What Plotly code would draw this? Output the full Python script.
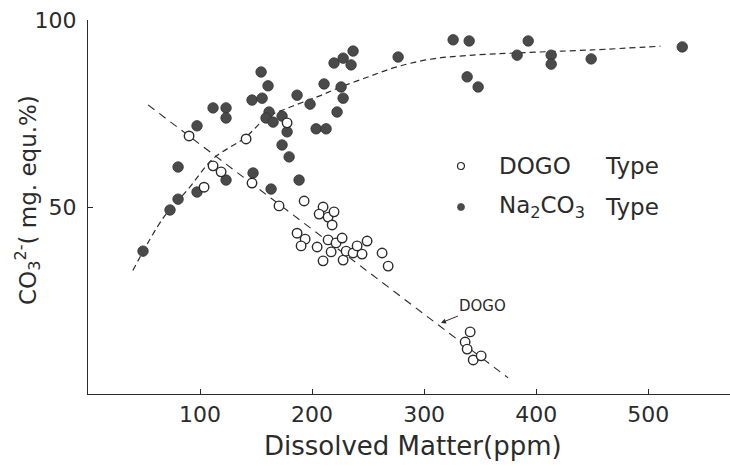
import plotly.graph_objects as go

# Dissolved matter (ppm) vs CO3 2- (mg. equ. %)
dogo_x = [90.2, 141.1, 111.6, 118.8, 103.6, 146.4, 177.7, 170.5, 192.9, 209.8,
          206.3, 214.3, 219.6, 217.9, 186.6, 193.8, 190.2, 204.5, 214.3, 221.4,
          226.8, 217.0, 209.8, 227.7, 230.4, 236.6, 244.6, 240.2, 249.1, 262.5,
          267.9, 341.1, 336.6, 338.4, 343.8, 350.9]
dogo_y = [69.0, 68.2, 61.0, 59.4, 55.3, 56.4, 72.5, 50.3, 51.6, 50.0,
          48.1, 47.3, 48.7, 45.2, 43.0, 41.4, 39.6, 39.3, 41.2, 40.4,
          41.7, 38.0, 35.6, 35.8, 38.2, 37.7, 37.4, 39.6, 40.9, 37.7,
          34.2, 16.6, 13.9, 12.0, 9.1, 10.2]

na_x = [49.1, 73.2, 80.4, 80.4, 97.3, 97.3, 111.6, 123.2, 123.2, 123.2,
        146.4, 147.3, 155.4, 154.5, 160.7, 163.4, 161.6, 158.9, 165.2, 173.2,
        177.7, 173.2, 179.5, 188.4, 186.6, 198.2, 203.6, 212.5, 210.7, 225.9,
        227.7, 222.3, 219.6, 227.7, 234.8, 236.6, 276.8, 325.9, 340.2, 338.4,
        348.2, 383.0, 392.9, 413.4, 413.4, 449.1, 530.4]
na_y = [38.2, 49.2, 52.1, 60.7, 54.0, 71.7, 76.5, 76.5, 73.8, 57.2,
        78.6, 59.1, 79.1, 86.1, 82.4, 54.8, 75.4, 73.8, 72.7, 74.3,
        70.1, 66.6, 63.4, 57.2, 79.9, 77.5, 70.9, 70.9, 82.9, 82.1,
        79.1, 75.4, 88.5, 89.8, 88.0, 91.7, 90.1, 94.7, 94.4, 84.8,
        82.1, 90.6, 94.4, 90.6, 88.2, 89.6, 92.8]

# hand-fitted trend lines
dogo_fit_x = [53.6, 375.0]
dogo_fit_y = [77.3, 4.3]
na_fit_x = [40, 67, 90, 112, 140, 160, 183, 205, 225, 252, 276, 305, 338, 383, 450, 511]
na_fit_y = [33.0, 47.0, 55.0, 63.0, 68.5, 74.0, 77.0, 79.5, 82.0, 85.0, 87.5, 89.5, 90.5,
            91.2, 92.0, 93.0]

x_ticks = [100, 200, 300, 400, 500]
y_ticks = [50, 100]

INK = "#2b2b2b"
FONT = "DejaVu Sans"

fig = go.Figure()

fig.add_trace(go.Scatter(x=na_fit_x, y=na_fit_y, mode="lines", line_shape="spline",
                         line=dict(color=INK, width=1.2, dash="6px,4px"),
                         hoverinfo="skip"))
fig.add_trace(go.Scatter(x=dogo_fit_x, y=dogo_fit_y, mode="lines",
                         line=dict(color=INK, width=1.1, dash="8px,6px"),
                         hoverinfo="skip"))
fig.add_trace(go.Scatter(x=na_x, y=na_y, mode="markers", name="Na2CO3 Type",
                         marker=dict(size=10.5, color="#4a4a4a",
                                     line=dict(color="#333333", width=0.8))))
fig.add_trace(go.Scatter(x=dogo_x, y=dogo_y, mode="markers", name="DOGO Type",
                         marker=dict(size=9.5, color="white",
                                     line=dict(color=INK, width=1.4))))

# legend drawn by hand
legend_rows = [
    ("DOGO", dict(fillcolor="white", line=dict(color=INK, width=1.2))),
    ("Na<sub>2</sub>CO<sub>3</sub>", dict(fillcolor="#4a4a4a", line=dict(color="#4a4a4a", width=0.8))),
]
shapes = []
annotations = []
legend_y_px = [166, 207]
for (label, style), ypx in zip(legend_rows, legend_y_px):
    yp = (394 - ypx) / 374
    shapes.append(dict(type="circle", xref="paper", yref="paper",
                       xsizemode="pixel", ysizemode="pixel",
                       xanchor=(461 - 88) / 642, yanchor=yp,
                       x0=-3.5, x1=3.5, y0=-3.5, y1=3.5, **style))
    annotations.append(dict(x=(497 - 88) / 642, y=yp, xref="paper", yref="paper",
                            text=label, showarrow=False, xanchor="left", yanchor="middle",
                            font=dict(family=FONT, size=23, color=INK)))
    annotations.append(dict(x=(603 - 88) / 642, y=yp, xref="paper", yref="paper",
                            text="Type", showarrow=False, xanchor="left", yanchor="middle",
                            font=dict(family=FONT, size=23, color=INK)))

# DOGO pointer
annotations.append(dict(x=315, y=19, xref="x", yref="y", text="DOGO",
                        showarrow=True, ax=42, ay=-17, arrowhead=2, arrowsize=1,
                        arrowwidth=1, arrowcolor=INK, standoff=0,
                        font=dict(family=FONT, size=15, color=INK)))

# axis titles
annotations.append(dict(x=-(88 - 27) / 642, y=(394 - 200) / 374, xref="paper", yref="paper",
                        text="CO<sub>3</sub><sup>2-</sup>( mg. equ.%)", textangle=-90,
                        showarrow=False, xanchor="center", yanchor="middle",
                        font=dict(family=FONT, size=23, color=INK)))
annotations.append(dict(x=(413 - 88) / 642, y=-(446 - 394) / 374, xref="paper", yref="paper",
                        text="Dissolved Matter(ppm)", showarrow=False,
                        xanchor="center", yanchor="middle",
                        font=dict(family=FONT, size=26, color=INK)))

fig.update_layout(
    width=730, height=465,
    margin=dict(l=88, r=0, t=20, b=71),
    paper_bgcolor="white", plot_bgcolor="white",
    showlegend=False,
    shapes=shapes, annotations=annotations,
    xaxis=dict(range=[0, 573], tickvals=x_ticks, ticks="inside", ticklen=5,
               tickcolor=INK, showline=True, linecolor=INK, linewidth=1.2,
               showgrid=False, zeroline=False,
               tickfont=dict(family=FONT, size=22, color=INK)),
    yaxis=dict(range=[0, 100], tickvals=y_ticks, ticks="inside", ticklen=5,
               tickcolor=INK, showline=True, linecolor=INK, linewidth=1.2,
               showgrid=False, zeroline=False, ticklabelstandoff=6,
               tickfont=dict(family=FONT, size=22, color=INK)),
)

fig.write_html("out.html")
